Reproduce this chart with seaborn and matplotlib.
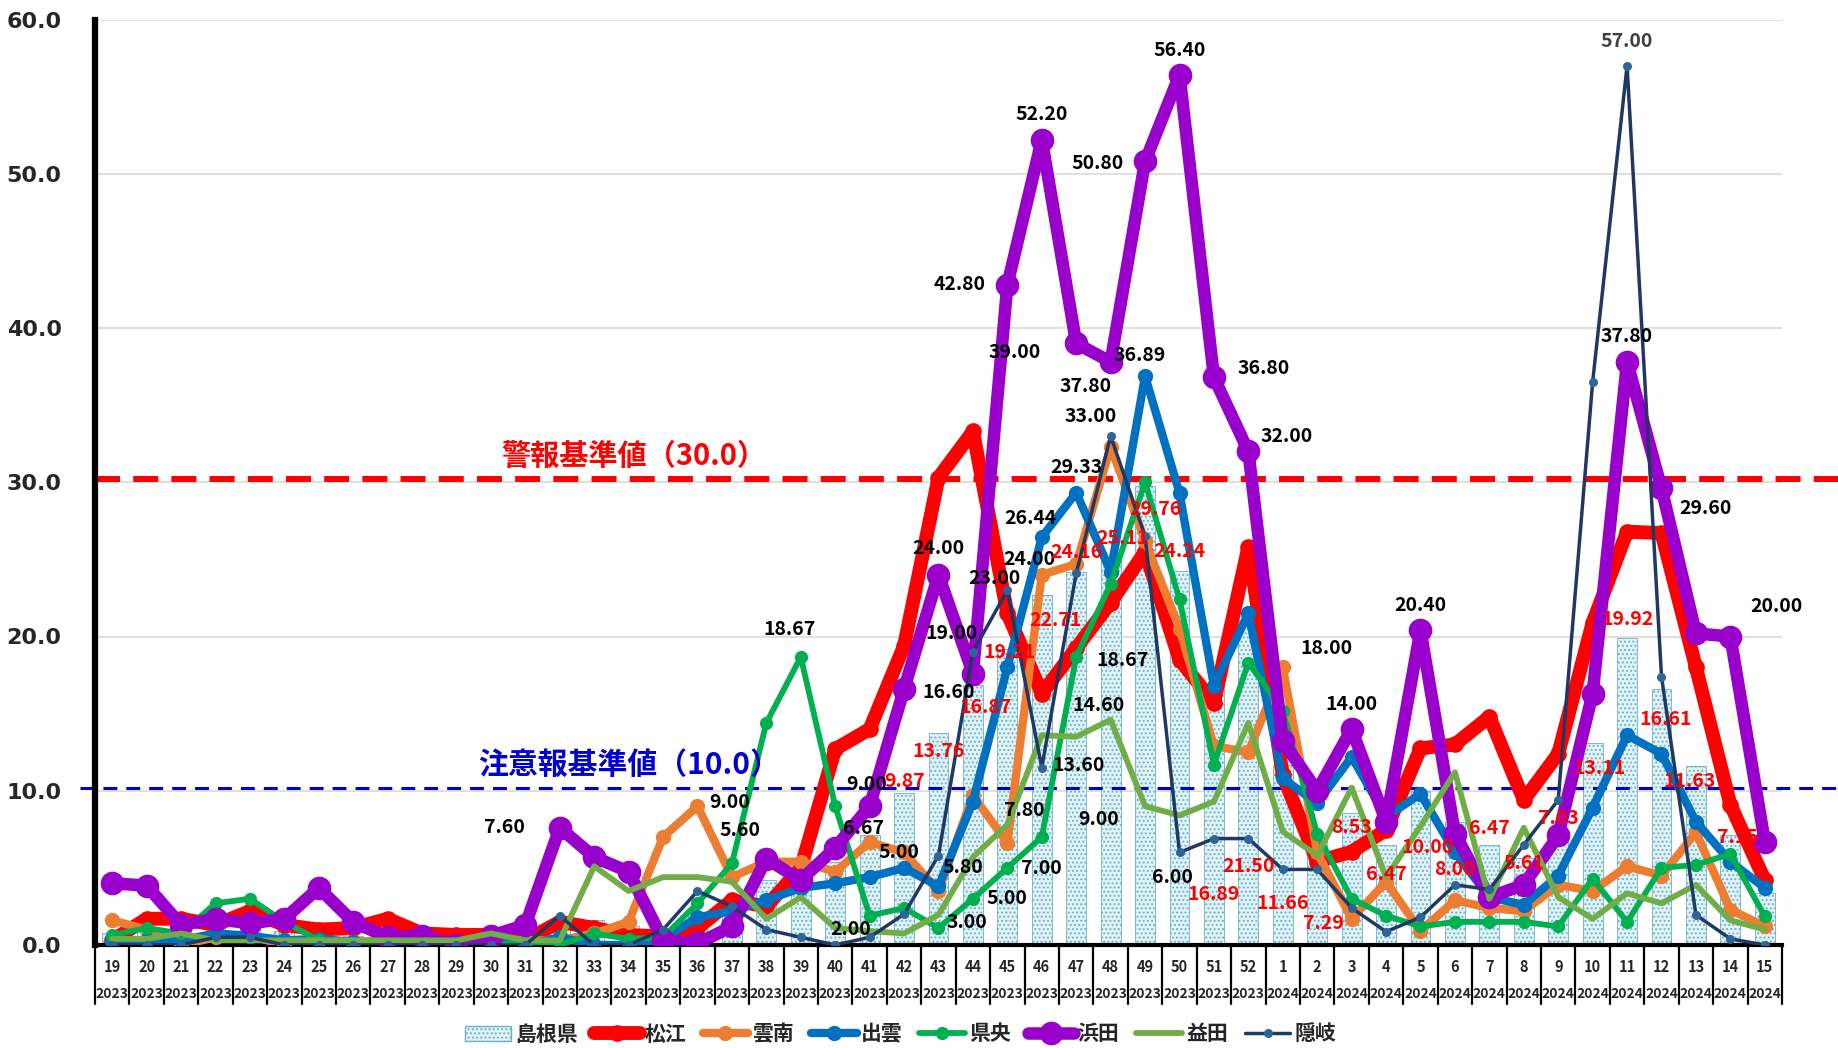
import numpy as np
import seaborn as sns
import matplotlib.pyplot as plt
from matplotlib.lines import Line2D
from matplotlib.patches import Patch

# weekly values, week 19/2023 .. week 15/2024
weeks = list(range(19, 53)) + list(range(1, 16))
years = [2023] * 34 + [2024] * 15

shimane = [0.8, 1.1, 0.9, 1.2, 1.2, 0.9, 0.9, 0.6, 0.7, 0.5, 0.3, 0.5, 0.5, 1.2, 1.6, 1.2, 1.0,
           1.9, 2.6, 4.2, 3.6, 5.4, 7.1, 9.87, 13.76, 16.87, 19.21, 22.71, 24.16, 25.11, 29.76,
           24.24, 16.89, 21.50,
           11.66, 7.29, 8.53, 6.47, 10.00, 8.00, 6.47, 5.61, 7.03, 13.11, 19.92, 16.61, 11.63,
           7.15, 3.40]
matsue = [0.3, 1.7, 1.7, 1.3, 2.2, 1.3, 1.0, 1.1, 1.7, 0.75, 0.65, 0.65, 0.3, 1.5, 1.1, 0.65,
          0.55, 1.1, 2.9, 2.5, 5.0, 12.7, 14.0, 19.4, 30.3, 33.3, 21.5, 16.3, 19.25, 22.2, 25.5,
          18.5, 15.7, 25.8,
          11.0, 5.4, 6.05, 7.46, 12.75, 13.0, 14.8, 9.4, 12.4, 20.9, 26.8, 26.7, 18.0, 9.1, 4.2]
unnan = [1.6, 1.0, 0.0, 0.5, 0.6, 0.0, 0.3, 0.2, 0.3, 0.3, 0.0, 0.2, 0.3, 0.3, 0.75, 1.5, 7.0,
         9.0, 4.4, 5.4, 5.4, 4.75, 6.67, 6.0, 3.5, 9.7, 6.6, 24.0, 24.7, 32.3, 26.2, 20.5, 12.9,
         12.5,
         18.0, 6.0, 1.7, 4.1, 0.9, 2.9, 2.4, 2.2, 3.9, 3.5, 5.1, 4.5, 7.3, 2.3, 1.2]
izumo = [0.3, 0.3, 0.3, 0.75, 0.6, 0.3, 0.4, 0.2, 0.0, 0.2, 0.0, 0.3, 0.0, 0.5, 0.0, 0.0, 0.4,
         1.8, 2.2, 2.9, 3.7, 4.0, 4.4, 5.0, 3.8, 9.3, 18.0, 26.44, 29.33, 24.2, 36.89, 29.3,
         16.8, 21.5,
         10.8, 9.2, 12.2, 8.3, 9.8, 6.0, 3.1, 2.6, 4.5, 8.9, 13.6, 12.4, 8.0, 5.4, 3.7]
kenou = [0.65, 1.1, 0.75, 2.7, 3.0, 1.5, 0.3, 0.0, 0.3, 0.2, 0.2, 0.0, 0.2, 0.0, 0.75, 0.4, 0.5,
         2.7, 5.3, 14.4, 18.67, 9.0, 1.9, 2.4, 1.1, 3.0, 5.0, 7.0, 18.67, 23.4, 30.0, 22.4, 11.7,
         18.3,
         15.2, 7.2, 3.0, 1.9, 1.2, 1.5, 1.5, 1.5, 1.2, 4.3, 1.5, 5.0, 5.2, 5.9, 1.85]
hamada = [4.0, 3.85, 1.3, 1.7, 1.4, 1.7, 3.7, 1.5, 0.5, 0.6, 0.0, 0.6, 1.3, 7.6, 5.7, 4.75, 0.3,
          0.1, 1.2, 5.6, 4.2, 6.3, 9.0, 16.6, 24.0, 17.6, 42.8, 52.2, 39.0, 37.8, 50.8, 56.4,
          36.8, 32.0,
          13.2, 10.0, 14.0, 8.0, 20.4, 7.2, 3.1, 3.9, 7.1, 16.3, 37.8, 29.6, 20.2, 20.0, 6.7]
masuda = [0.4, 0.4, 0.75, 0.3, 0.3, 0.3, 0.3, 0.3, 0.3, 0.3, 0.3, 0.75, 0.3, 0.3, 5.1, 3.5, 4.4,
          4.4, 4.1, 1.7, 3.1, 1.1, 0.9, 0.75, 1.96, 5.7, 7.8, 13.6, 13.5, 14.6, 9.0, 8.4, 9.3,
          14.4,
          7.35, 5.8, 10.2, 4.4, 7.7, 11.2, 3.0, 7.6, 3.1, 1.7, 3.35, 2.7, 3.9, 1.6, 1.0]
oki = [0, 0, 0, 0.5, 0.5, 0, 0, 0, 0, 0, 0, 0, 0, 1.9, 0, 0, 1.0, 3.5, 2.5, 1.0, 0.5, 0, 0.5,
       2.0, 5.8, 19.0, 23.0, 11.5, 24.1, 33.0, 26.5, 6.0, 6.9, 6.9,
       4.9, 4.9, 2.4, 0.86, 1.8, 3.9, 3.6, 6.5, 9.4, 36.5, 57.0, 17.4, 1.95, 0.4, 0.0]

ALERT = 30.2   # 警報基準値
WARN = 10.15   # 注意報基準値

# label placements: (week index, dx px, dy px)
labels = {
    "浜田": [(13, -55, 0), (19, -26, 28), (22, -3, 22), (23, 45, -4), (24, 0, 26), (26, -48, 0),
            (27, 0, 25), (28, -62, -9), (29, -25, -25), (30, -47, -2), (31, 0, 25), (32, 50, 9),
            (33, 38, 15), (36, 0, 25), (38, 0, 25), (44, 0, 25), (45, 44, -20), (47, 46, 30)],
    "隠岐": [(23, -53, -15), (24, 24, -12), (25, -21, 18), (26, -13, 12), (29, -20, 19),
           (31, -7, -25), (44, 0, 24)],
    "出雲": [(23, -5, 15), (27, -11, 19), (28, 0, 25), (30, -5, 20)],
    "雲南": [(17, 32, 4), (22, -6, 14), (27, -12, 15), (34, 44, 19)],
    "県央": [(20, -11, 28), (25, -6, -24), (26, 0, -31), (27, 0, -31), (28, 46, -3)],
    "益田": [(26, 17, 14), (27, 37, -30), (29, -12, 14), (30, -46, -13)],
}
bar_labels = [(23, 0, 11), (24, 0, -19), (25, 13, -23), (26, 2, -4), (27, 14, -26), (28, 0, 20),
              (29, 12, 19), (30, 10, -24), (31, 0, 20), (32, 0, -210), (33, 0, -253),
              (34, 0, -138), (35, 6, -91), (36, 0, -14), (37, 0, -29), (38, 7, -57),
              (39, 0, -48), (40, 0, 17), (41, 0, -5), (42, 0, 18), (43, 7, -26), (44, 0, 18),
              (45, 4, -31), (46, -6, -16), (47, 7, -3)]

sns.set_theme(style="white")
plt.rcParams['font.family'] = ['Noto Sans CJK JP', 'DejaVu Sans']
plt.rcParams['lines.scale_dashes'] = False
plt.rcParams['hatch.linewidth'] = 0.9

fig, ax = plt.subplots(figsize=(18.38, 10.48), dpi=100)
fig.subplots_adjust(left=95 / 1838, right=1782 / 1838, bottom=1 - 945 / 1048, top=1 - 19.5 / 1048)

idx = np.arange(len(weeks))
BAR_FC, BAR_EC = '#dff3f8', '#6fb0c4'
sns.barplot(x=idx, y=shimane, color=BAR_FC, saturation=1, edgecolor=BAR_EC, linewidth=0.6,
            hatch='....', width=0.58, ax=ax, zorder=1)

series = [
    # name, values, color, lw, marker size, marker color
    ("松江", matsue, '#ff0000', 10, 12, '#ff0000'),
    ("雲南", unnan, '#ed7d31', 6, 11, '#ed7d31'),
    ("出雲", izumo, '#0070c0', 6, 11, '#0070c0'),
    ("県央", kenou, '#00b050', 4.2, 9.5, '#00b050'),
    ("浜田", hamada, '#9900cc', 9, 17, '#9900cc'),
    ("益田", masuda, '#70ad47', 4.2, 0, '#70ad47'),
    ("隠岐", oki, '#1f3864', 2.5, 6.5, '#2e6496'),
]
values = {name: v for name, v, *_ in series}
for z, (name, vals, c, lw, ms, mc) in enumerate(series):
    sns.lineplot(x=idx, y=vals, color=c, linewidth=lw, marker='o' if ms else None,
                 markersize=ms, markerfacecolor=mc, markeredgewidth=0, ax=ax,
                 zorder=3 + z, solid_joinstyle='round', solid_capstyle='round', legend=False)

# threshold lines
ax.plot([0, 1.04], [ALERT, ALERT], transform=ax.get_yaxis_transform(), color='#ff0000',
        lw=4.3, dashes=(18, 9.5), clip_on=False, zorder=2)
ax.plot([-0.009, 1.04], [WARN, WARN], transform=ax.get_yaxis_transform(), color='#0000cc',
        lw=2.2, dashes=(10, 6.5), clip_on=False, zorder=2)
ax.text(15.15, 31.7, "警報基準値（30.0）", color='#ff0000', fontsize=21, fontweight='bold',
        ha='center', va='center', zorder=12)
ax.text(15.0, 11.7, "注意報基準値（10.0）", color='#0000cc', fontsize=21.5, fontweight='bold',
        ha='center', va='center', zorder=12)

# data labels
for name, specs in labels.items():
    for i, dx, dy in specs:
        v = values[name][i]
        col = '#404040' if (name == "隠岐" and v > 50) else 'black'
        ax.annotate(f"{v:.2f}", (i, v), xytext=(dx, dy), textcoords='offset pixels',
                    ha='center', va='center', fontsize=14, fontweight='bold', color=col,
                    zorder=20)
for i, dx, dy in bar_labels:
    v = shimane[i]
    ax.annotate(f"{v:.2f}", (i, v), xytext=(dx, dy), textcoords='offset pixels',
                ha='center', va='center', fontsize=14, fontweight='bold', color='#ff0000',
                zorder=20)

# axes styling
ax.set_xlim(-0.5, len(weeks) - 0.5)
ax.set_ylim(0, 60)
ax.set_xticks([])
ax.set_xlabel("")
ax.set_yticks(range(0, 61, 10))
ax.set_yticklabels([f"{t:.1f}" for t in range(0, 61, 10)], fontfamily='DejaVu Sans',
                   fontweight='bold', fontsize=16)
ax.tick_params(axis='y', length=0, pad=24)
ax.yaxis.grid(True, color='#d9d9d9', lw=1.2)
ax.set_axisbelow(True)
for s in ['top', 'right']:
    ax.spines[s].set_visible(False)
ax.spines['left'].set_color('black')
ax.spines['left'].set_linewidth(4.5)
ax.spines['bottom'].set_color('black')
ax.spines['bottom'].set_linewidth(3)

# two-level category axis
xt = ax.get_xaxis_transform()
for b in np.arange(-0.5, len(weeks), 1.0):
    ax.plot([b, b], [0, -0.064], transform=xt, color='black', lw=1.6, clip_on=False)
for i, (w, y) in enumerate(zip(weeks, years)):
    ax.text(i, -0.0238, str(w), transform=xt, ha='center', va='center', fontsize=10.5,
            fontweight='bold')
    ax.text(i, -0.053, str(y), transform=xt, ha='center', va='center', fontsize=10,
            fontweight='bold')

# legend
handles = [Patch(facecolor=BAR_FC, edgecolor=BAR_EC, hatch='....', label="島根県")]
for name, vals, c, lw, ms, mc in series:
    handles.append(Line2D([], [], color=c, lw=lw, marker='o' if ms else None,
                          markersize=ms, markerfacecolor=mc, markeredgewidth=0, label=name))
fig.legend(handles=handles, loc='center', bbox_to_anchor=(0.49, 1 - 1034 / 1048), ncol=8,
           frameon=False, prop={'weight': 'bold', 'size': 15}, handlelength=2.2,
           columnspacing=0.8, handletextpad=0.2)

fig.savefig("out.png", dpi=100)
